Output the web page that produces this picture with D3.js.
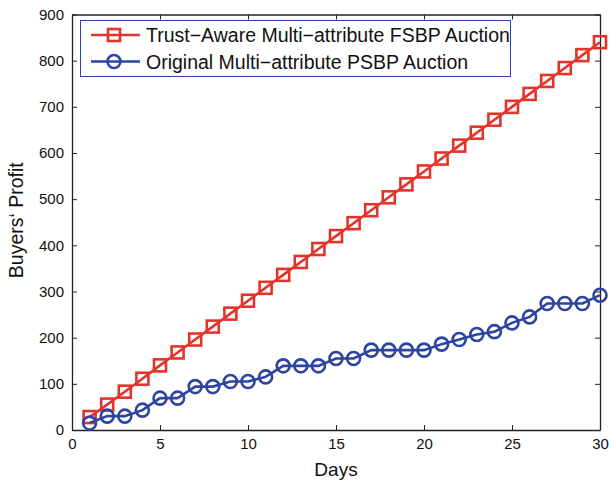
<!DOCTYPE html>
<html>
<head>
<meta charset="utf-8">
<script src="https://cdn.jsdelivr.net/npm/d3@7"></script>
<style>
  html, body { margin: 0; padding: 0; background: #fff; }
  svg { display: block; font-family: "Liberation Sans", Arial, Helvetica, sans-serif; }
</style>
</head>
<body>
<svg id="chart" width="609" height="480"></svg>
<script>
// Days on the x axis
const days = [1,2,3,4,5,6,7,8,9,10,11,12,13,14,15,16,17,18,19,20,21,22,23,24,25,26,27,28,29,30];

// Buyers' profit per day, trust-aware FSBP auction
const trustAware = [28,55,83,111,140,168,196,224,252,280,308,336,364,392,420,448,476,504,532,560,588,616,644,672,700,728,756,784,812,840];

// Buyers' profit per day, original PSBP auction
const original = [15,30,30,43,69,69,94,94,105,105,115,139,139,139,155,155,173,173,173,173,186,196,207,213,232,245,274,274,274,292];

const xTicks = [0,5,10,15,20,25,30];
const yTicks = [0,100,200,300,400,500,600,700,800,900];

const seriesNames = ["Trust\u2212Aware Multi\u2212attribute FSBP Auction", "Original Multi\u2212attribute PSBP Auction"];
const red = "#e3342b";
const blue = "#2d44a0";

const svg = d3.select("#chart");
const m = { left: 72, right: 600, top: 14.5, bottom: 430 };

const x = d3.scaleLinear().domain([0, 30]).range([m.left, m.right]);
const y = d3.scaleLinear().domain([0, 900]).range([m.bottom, m.top]);

// axes with inward ticks on all four sides
const tickLen = 5;
const axisColor = "#222";
const axB = svg.append("g").attr("transform", `translate(0,${m.bottom})`)
  .call(d3.axisBottom(x).tickValues(xTicks).tickSizeInner(-tickLen).tickSizeOuter(0).tickPadding(8));
const axT = svg.append("g").attr("transform", `translate(0,${m.top})`)
  .call(d3.axisTop(x).tickValues(xTicks).tickSizeInner(-tickLen).tickSizeOuter(0).tickFormat(""));
const axL = svg.append("g").attr("transform", `translate(${m.left},0)`)
  .call(d3.axisLeft(y).tickValues(yTicks).tickSizeInner(-tickLen).tickSizeOuter(0).tickPadding(8));
const axR = svg.append("g").attr("transform", `translate(${m.right},0)`)
  .call(d3.axisRight(y).tickValues(yTicks).tickSizeInner(-tickLen).tickSizeOuter(0).tickFormat(""));

[axB, axT, axL, axR].forEach(a => {
  a.select(".domain").attr("stroke", axisColor).attr("stroke-width", 1.3);
  a.selectAll(".tick line").attr("stroke", axisColor).attr("stroke-width", 1);
  a.selectAll(".tick text").attr("fill", "#111").attr("font-size", 15)
    .attr("font-family", "'Liberation Sans', Arial, sans-serif");
});

// axis titles
svg.append("text").attr("x", (m.left + m.right) / 2).attr("y", 476)
  .attr("text-anchor", "middle").attr("font-size", 19).attr("fill", "#111").text("Days");
svg.append("text").attr("transform", `translate(23,${(m.top + m.bottom) / 2 - 2}) rotate(-90)`)
  .attr("text-anchor", "middle").attr("font-size", 19.5).attr("fill", "#111").text("Buyers\u2018 Profit");

const line = d3.line().x((d, i) => x(days[i])).y(d => y(d));

// trust-aware series: line with square markers
svg.append("path").datum(trustAware).attr("d", line)
  .attr("fill", "none").attr("stroke", red).attr("stroke-width", 2.6);
const sq = 12;
svg.append("g").selectAll("rect").data(trustAware).join("rect")
  .attr("x", (d, i) => x(days[i]) - sq / 2).attr("y", d => y(d) - sq / 2)
  .attr("width", sq).attr("height", sq)
  .attr("fill", "none").attr("stroke", red).attr("stroke-width", 2.6);

// original series: line with circle markers
svg.append("path").datum(original).attr("d", line)
  .attr("fill", "none").attr("stroke", blue).attr("stroke-width", 2.6);
svg.append("g").selectAll("circle").data(original).join("circle")
  .attr("cx", (d, i) => x(days[i])).attr("cy", d => y(d)).attr("r", 6.5)
  .attr("fill", "none").attr("stroke", blue).attr("stroke-width", 2.6);

// legend
const lg = svg.append("g");
lg.append("rect").attr("x", 80.5).attr("y", 20.5).attr("width", 430).attr("height", 56)
  .attr("fill", "#fff").attr("stroke", blue).attr("stroke-width", 1);
const rowsY = [35, 61.5];
[red, blue].forEach((c, i) => {
  const ry = rowsY[i];
  lg.append("line").attr("x1", 91).attr("x2", 140).attr("y1", ry).attr("y2", ry)
    .attr("stroke", c).attr("stroke-width", 2.6);
  if (i === 0) {
    lg.append("rect").attr("x", 114 - sq / 2).attr("y", ry - sq / 2).attr("width", sq).attr("height", sq)
      .attr("fill", "none").attr("stroke", c).attr("stroke-width", 2.6);
  } else {
    lg.append("circle").attr("cx", 114).attr("cy", ry).attr("r", 6.5)
      .attr("fill", "none").attr("stroke", c).attr("stroke-width", 2.6);
  }
  lg.append("text").attr("x", 146).attr("y", ry + 7).attr("font-size", 19.5).attr("fill", "#111")
    .text(seriesNames[i]);
});
</script>
</body>
</html>
